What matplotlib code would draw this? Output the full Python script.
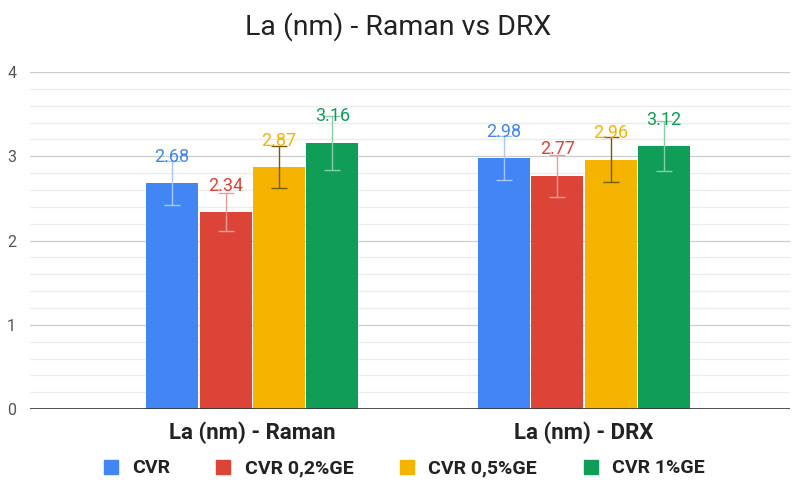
import matplotlib
matplotlib.use('Agg')
import matplotlib.pyplot as plt
from matplotlib.lines import Line2D
from matplotlib.ticker import MultipleLocator
import numpy as np

plt.rcParams['font.family'] = ['Roboto', 'DejaVu Sans']

groups = ['La (nm) - Raman', 'La (nm) - DRX']
series = ['CVR', 'CVR 0,2%GE', 'CVR 0,5%GE', 'CVR 1%GE']
values = {
    'CVR':        [2.68, 2.98],
    'CVR 0,2%GE': [2.34, 2.77],
    'CVR 0,5%GE': [2.87, 2.96],
    'CVR 1%GE':   [3.16, 3.12],
}
errors = {
    'CVR':        [0.26, 0.26],
    'CVR 0,2%GE': [0.23, 0.25],
    'CVR 0,5%GE': [0.25, 0.27],
    'CVR 1%GE':   [0.32, 0.30],
}

colours = ['#4285F4', '#DB4437', '#F4B400', '#0F9D58']
err_colours = ['#A9C6F8', '#EE9C95', '#7A5A00', '#86CDA9']

fig = plt.figure(figsize=(7.96, 4.93), dpi=100)
ax = fig.add_axes([0.0377, 0.170, 0.9543, 0.684])

x = np.arange(len(groups))
width = 0.157
step = 0.161
for i, s in enumerate(series):
    xs = x + (i - 1.5) * step
    ax.bar(xs, values[s], width=width, color=colours[i], zorder=3)
    ax.errorbar(xs, values[s], yerr=errors[s], fmt='none', ecolor=err_colours[i],
                elinewidth=1, capsize=6, capthick=1, zorder=4)
    for xv, v in zip(xs, values[s]):
        ax.annotate(f'{v:.2f}', (xv, v), xytext=(0, 19), textcoords='offset points',
                    ha='center', va='center', color=colours[i], fontsize=13, zorder=5)

ax.set_xlim(-0.67, 1.62)
ax.set_ylim(0, 4)
ax.yaxis.set_major_locator(MultipleLocator(1))
ax.yaxis.set_minor_locator(MultipleLocator(0.2))
ax.grid(axis='y', which='major', color='#cccccc', linewidth=0.9, zorder=0)
ax.grid(axis='y', which='minor', color='#ebebeb', linewidth=0.9, zorder=0)
ax.axhline(0, color='#333333', linewidth=1.2, zorder=6)
for sp in ax.spines.values():
    sp.set_visible(False)
ax.tick_params(axis='y', which='both', length=0, labelsize=11.5, labelcolor='#555555', pad=10)
ax.tick_params(axis='x', length=0, pad=9)
ax.set_xticks(x)
ax.set_xticklabels(groups, fontsize=16, fontweight='bold', color='#222222')

fig.suptitle('La (nm) - Raman vs DRX', y=0.975, fontsize=20.5, color='#222222')

handles = [Line2D([0], [0], marker='s', linestyle='none', markersize=10,
                  markerfacecolor=c, markeredgecolor=c) for c in colours]
fig.legend(handles, series, loc='center', bbox_to_anchor=(0.50, 0.050), ncol=4,
           frameon=False, prop={'weight': 'bold', 'size': 14}, handletextpad=0.1,
           columnspacing=1.75, labelcolor='#222222')

fig.savefig('out.png', dpi=100)
